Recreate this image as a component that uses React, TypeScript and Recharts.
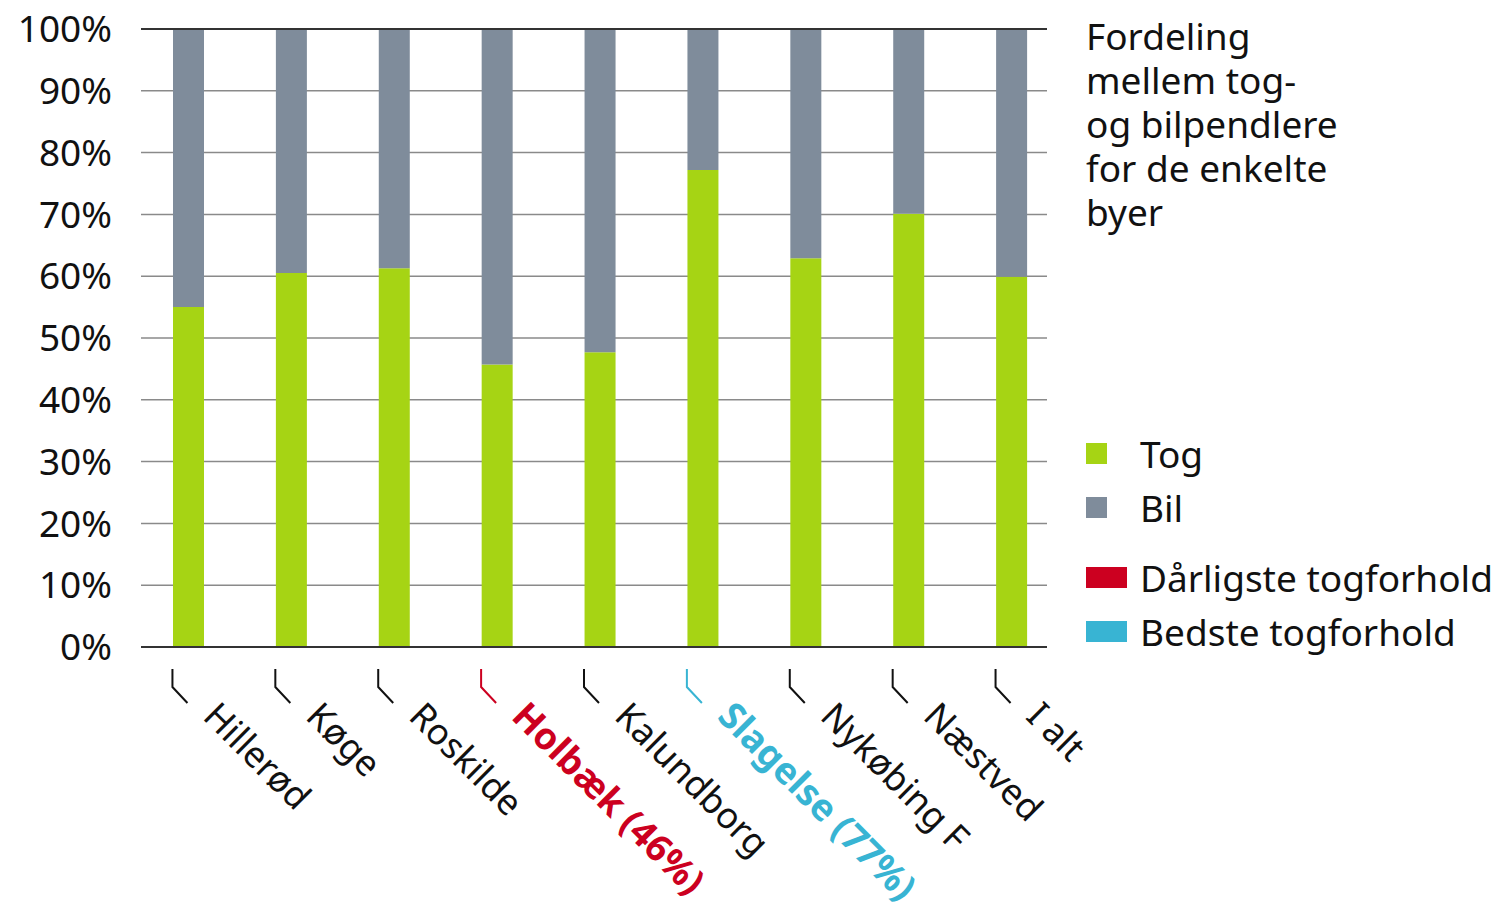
import React from 'react';
import {
  BarChart,
  Bar,
  XAxis,
  YAxis,
  CartesianGrid,
  ReferenceLine,
} from 'recharts';

const cities = [
  'Hillerød',
  'Køge',
  'Roskilde',
  'Holbæk (46%)',
  'Kalundborg',
  'Slagelse (77%)',
  'Nykøbing F',
  'Næstved',
  'I alt',
];
const togShare = [55, 60.5, 61.3, 45.7, 47.7, 77.2, 62.9, 70.1, 59.9];
const bilShare = [45, 39.5, 38.7, 54.3, 52.3, 22.8, 37.1, 29.9, 40.1];
const cityMark = ['', '', '', 'worst', '', 'best', '', '', ''];
const yTicks = [0, 10, 20, 30, 40, 50, 60, 70, 80, 90, 100];
const titleLines = ['Fordeling', 'mellem tog-', 'og bilpendlere', 'for de enkelte', 'byer'];

const GREEN = '#a6d414';
const GREY = '#7f8c9b';
const RED = '#cc0020';
const BLUE = '#38b4d3';
const FONT = '"Noto Sans", sans-serif';

const data = cities.map((city, i) => ({
  city,
  tog: togShare[i],
  bil: bilShare[i],
  mark: cityMark[i],
}));

const markColor = (mark: string) =>
  mark === 'worst' ? RED : mark === 'best' ? BLUE : '#111';

const CityTick = (props: any) => {
  const { x, y, payload, index } = props;
  const mark = cityMark[index] || '';
  const color = markColor(mark);
  const top = y + 14;
  const tx = x + 13;
  const ty = top + 49;
  return (
    <g>
      <path
        d={`M${x - 16},${top} L${x - 16},${top + 18} L${x - 1},${top + 34}`}
        fill="none"
        stroke={color}
        strokeWidth={2}
      />
      <text
        x={tx}
        y={ty}
        transform={`rotate(45, ${tx}, ${ty})`}
        textAnchor="start"
        fill={color}
        fontFamily={FONT}
        fontSize={mark ? 37 : 36}
        fontWeight={mark ? 700 : 400}
      >
        {payload.value}
      </text>
    </g>
  );
};

const legendItems = [
  { label: 'Tog', color: GREEN, w: 21, top: 433 },
  { label: 'Bil', color: GREY, w: 21, top: 487 },
  { label: 'Dårligste togforhold', color: RED, w: 41, top: 557 },
  { label: 'Bedste togforhold', color: BLUE, w: 41, top: 611 },
];

export default function App() {
  return (
    <div style={{ position: 'absolute', left: 0, top: 0, width: 1499, height: 907, background: '#fff' }}>
      <BarChart
        width={1499}
        height={907}
        data={data}
        margin={{ top: 29, right: 452, bottom: 0, left: 0 }}
        barSize={31}
      >
        <CartesianGrid vertical={false} stroke="#8a8a8a" strokeWidth={1.5} />
        <XAxis
          dataKey="city"
          interval={0}
          height={260}
          padding={{ left: -4, right: -16 }}
          axisLine={{ stroke: '#333', strokeWidth: 2 }}
          tickLine={false}
          tick={<CityTick />}
        />
        <YAxis
          type="number"
          domain={[0, 100]}
          ticks={yTicks}
          width={141}
          axisLine={false}
          tickLine={false}
          tickMargin={23}
          tickFormatter={(v: number) => `${v}%`}
          tick={{ fill: '#111', fontSize: 37, fontFamily: FONT }}
        />
        <ReferenceLine y={100} stroke="#333" strokeWidth={2} />
        <Bar dataKey="tog" stackId="a" fill={GREEN} isAnimationActive={false} />
        <Bar dataKey="bil" stackId="a" fill={GREY} isAnimationActive={false} />
      </BarChart>

      <div
        style={{
          position: 'absolute',
          left: 1086,
          top: 14,
          fontFamily: FONT,
          fontSize: 37,
          lineHeight: '44px',
          color: '#111',
        }}
      >
        {titleLines.map((line) => (
          <div key={line}>{line}</div>
        ))}
      </div>

      {legendItems.map((item) => (
        <div
          key={item.label}
          style={{
            position: 'absolute',
            left: 1086,
            top: item.top,
            height: 40,
            display: 'flex',
            alignItems: 'center',
            fontFamily: FONT,
            fontSize: 37,
            color: '#111',
          }}
        >
          <span
            style={{
              display: 'inline-block',
              width: item.w,
              height: 21,
              background: item.color,
              marginRight: 54 - item.w,
            }}
          />
          <span>{item.label}</span>
        </div>
      ))}
    </div>
  );
}
